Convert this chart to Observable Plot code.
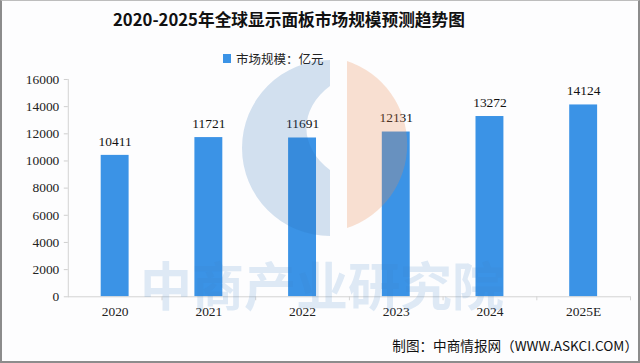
<!DOCTYPE html>
<html>
<head>
<meta charset="utf-8">
<script src="https://cdn.jsdelivr.net/npm/d3@7"></script>
<script src="https://cdn.jsdelivr.net/npm/@observablehq/plot@0.6"></script>
<style>
  html, body { margin: 0; padding: 0; background: #fff; }
  #box { position: relative; width: 640px; height: 363px; box-sizing: border-box;
         border: 2px solid #8c8c8c; border-top: 1px solid #bdbdbd; background: #fdfdfe; overflow: hidden; }
  #title { position: absolute; left: 111px; top: 6px; width: 300px; text-align: left;
           font: bold 16.7px "Noto Sans CJK SC", sans-serif; color: #111; white-space: nowrap; }
  #legend { position: absolute; left: 221px; top: 48px; font: 12.5px "Noto Sans CJK SC", sans-serif; color: #222;
            white-space: nowrap; display: flex; align-items: center; }
  #legend .sw { width: 8px; height: 9px; background: #3b93e6; margin-right: 5px; }
  #plot { position: absolute; left: -2px; top: 69px; }
  #footer { position: absolute; right: 0px; top: 334px; font: 13.6px "Noto Sans CJK SC", sans-serif; color: #111; white-space: nowrap; }
  #wm { position: absolute; left: -2px; top: -1px; pointer-events: none; }
</style>
</head>
<body>
<div id="box">
  <div id="title">2020-2025年全球显示面板市场规模预测趋势图</div>
  <div id="legend"><span class="sw"></span><span>市场规模：亿元</span></div>
  <div id="plot"></div>
  <div id="footer">制图：中商情报网（WWW.ASKCI.COM）</div>
</div>
<script>
const years = ["2020", "2021", "2022", "2023", "2024", "2025E"];
const values = [10411, 11721, 11691, 12131, 13272, 14124];
const yTicks = [0, 2000, 4000, 6000, 8000, 10000, 12000, 14000, 16000];

const data = years.map((y, i) => ({year: y, value: values[i]}));

const W = 640, ML = 68, MR = 8;
const step = (W - ML - MR) / years.length;

const chart = Plot.plot({
  width: W,
  height: 261,
  marginLeft: ML,
  marginRight: MR,
  marginTop: 9,
  marginBottom: 34,
  style: {background: "transparent", fontFamily: "'Liberation Serif', serif", fontSize: "13px", color: "#222"},
  x: {domain: years, paddingInner: 0.7, paddingOuter: 0.35, label: null},
  y: {domain: [0, 16000], label: null},
  marks: [
    Plot.frame({anchor: "left", stroke: "#d4d4d4"}),
    Plot.barY(data, {x: "year", y: "value", fill: "#3b93e6"}),
    Plot.ruleY([0], {stroke: "#d4d4d4"}),
    Plot.ruleX(years, {x: d => d, y1: 0, y2: 0, dx: step / 2, insetBottom: -4, stroke: "#d4d4d4"}),
    Plot.text(data, {x: "year", y: "value", text: d => String(d.value), dy: -14, fill: "#111",
      fontFamily: "'Liberation Serif', serif", fontSize: 13.5}),
    Plot.axisY({ticks: yTicks, tickSize: 4, tickPadding: 5, stroke: "#cfcfcf", fill: "#222",
      tickFormat: d => String(d), fontSize: 13.5, label: null}),
    Plot.axisX({tickSize: 0, tickPadding: 10, fill: "#222", fontSize: 13.5, label: null})
  ]
});
document.getElementById("plot").appendChild(chart);

// watermark overlay (decorative)
const wm = d3.select("#box").append("svg").attr("id", "wm").attr("width", 640).attr("height", 363);
const cx = 322, cy = 148, R = 88;
wm.append("path")
  .attr("d", `M ${cx+8} ${cy-R} A ${R} ${R} 0 0 0 ${cx+8} ${cy+R} L ${cx+8} ${cy+22}
             A ${R-12} ${58} 0 0 1 ${cx+8} ${cy-62} Z`)
  .attr("fill", "rgb(40,110,180)").attr("fill-opacity", 0.2);
wm.append("path")
  .attr("d", `M ${cx+25} ${cy-R+1} A ${R} ${R} 0 0 1 ${cx+25} ${cy+R-8} Z`)
  .attr("fill", "rgb(235,140,80)").attr("fill-opacity", 0.26);
wm.append("text").attr("x", 322).attr("y", 306).attr("text-anchor", "middle")
  .attr("font-family", "'Noto Sans CJK SC', sans-serif").attr("font-weight", "bold")
  .attr("font-size", 52).attr("fill", "rgb(60,130,200)").attr("fill-opacity", 0.16)
  .text("中商产业研究院");
</script>
</body>
</html>
